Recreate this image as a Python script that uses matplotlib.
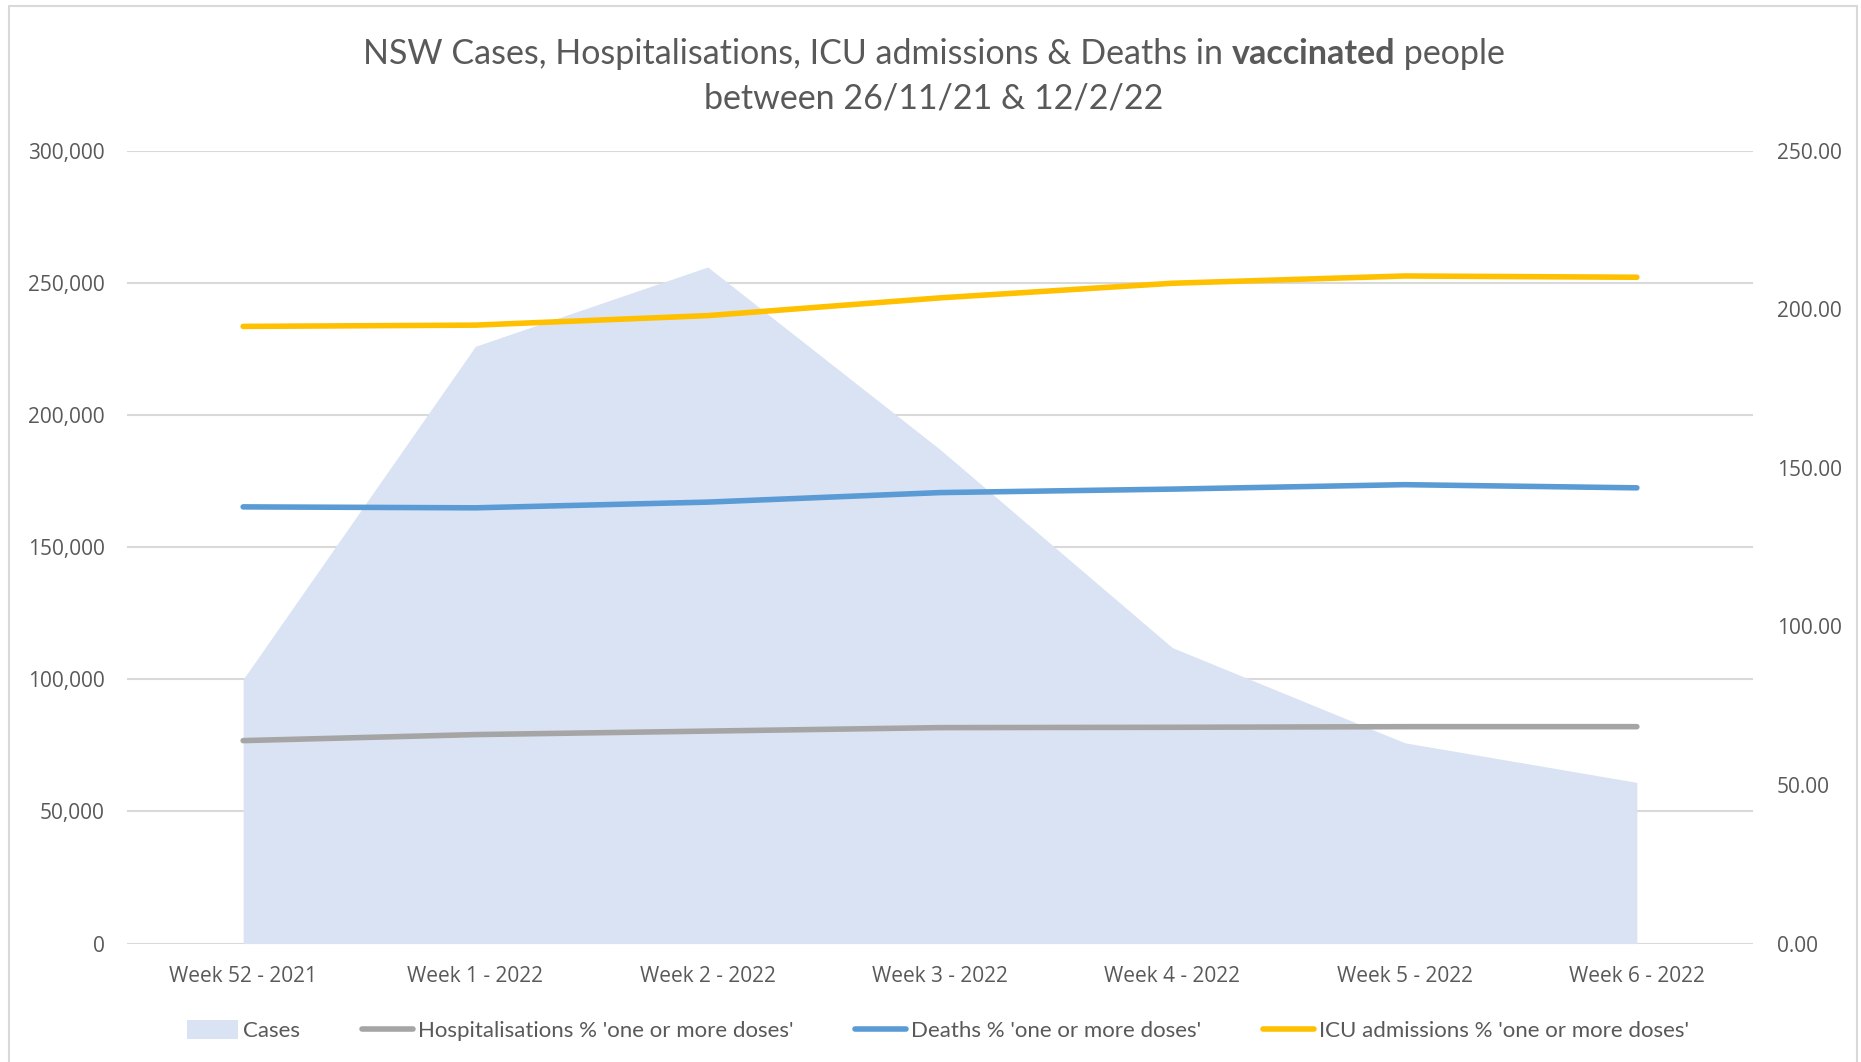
import matplotlib
matplotlib.use("Agg")
import matplotlib.pyplot as plt
from matplotlib.patches import Rectangle, Patch
from matplotlib.lines import Line2D
from matplotlib.ticker import FuncFormatter, MultipleLocator

# ---------------- data ----------------
weeks = ["Week 52 - 2021", "Week 1 - 2022", "Week 2 - 2022", "Week 3 - 2022",
         "Week 4 - 2022", "Week 5 - 2022", "Week 6 - 2022"]
cases = [100000, 226000, 256000, 187000, 112000, 76000, 61000]
hospitalisations = [64.0, 65.9, 67.0, 68.1, 68.2, 68.4, 68.4]
deaths = [137.7, 137.4, 139.2, 142.2, 143.3, 144.7, 143.7]
icu = [194.6, 195.0, 198.0, 203.6, 208.2, 210.5, 210.1]

legend_labels = ["Cases", "Hospitalisations % 'one or more doses'",
                 "Deaths % 'one or more doses'", "ICU admissions % 'one or more doses'"]

# ---------------- style ----------------
C_AREA = "#DAE3F3"
C_HOSP = "#A5A5A5"
C_DEATH = "#5B9BD5"
C_ICU = "#FFC000"
C_TEXT = "#595959"
C_GRID = "#D9D9D9"
TICK_FONT = "Open Sans"
TITLE_FONT = "Lato"

W, H = 1861, 1062
fig = plt.figure(figsize=(W / 100, H / 100), dpi=100)
fig.patch.set_facecolor("white")

# chart border
fig.patches.append(Rectangle((9 / W, -0.02), (1857 - 9) / W, 1.02 - 6 / H,
                             transform=fig.transFigure, fill=False,
                             edgecolor=C_GRID, linewidth=1.5))

ax = fig.add_axes([127 / W, 1 - 943.6 / H, (1753 - 127) / W, (943.6 - 150.7) / H])
x = list(range(len(weeks)))

ax.fill_between(x, cases, 0, color=C_AREA, linewidth=0, zorder=2)
ax.set_xlim(-0.5, len(weeks) - 0.5)
ax.set_ylim(0, 300000)
ax.yaxis.set_major_locator(MultipleLocator(50000))
ax.yaxis.set_major_formatter(FuncFormatter(lambda v, p: f"{int(v):,}"))
ax.set_axisbelow(True)
ax.grid(axis="y", color=C_GRID, linewidth=1.5, zorder=0)
ax.set_xticks(x)
ax.set_xticklabels(weeks)
for s in ax.spines.values():
    s.set_visible(False)
ax.tick_params(axis="y", length=0, pad=16, labelsize=15, labelcolor=C_TEXT)
ax.tick_params(axis="x", length=0, pad=16, labelsize=15, labelcolor=C_TEXT)
for lab in ax.get_xticklabels() + ax.get_yticklabels():
    lab.set_fontfamily(TICK_FONT)

ax2 = ax.twinx()
ax2.set_ylim(0, 250)
ax2.yaxis.set_major_locator(MultipleLocator(50))
ax2.yaxis.set_major_formatter(FuncFormatter(lambda v, p: f"{v:.2f}"))
for s in ax2.spines.values():
    s.set_visible(False)
ax2.tick_params(axis="y", length=0, pad=17, labelsize=15, labelcolor=C_TEXT)
for lab in ax2.get_yticklabels():
    lab.set_fontfamily(TICK_FONT)

lw = 4
ax2.plot(x, hospitalisations, color=C_HOSP, lw=lw, solid_capstyle="round", solid_joinstyle="round")
ax2.plot(x, deaths, color=C_DEATH, lw=lw, solid_capstyle="round", solid_joinstyle="round")
ax2.plot(x, icu, color=C_ICU, lw=lw, solid_capstyle="round", solid_joinstyle="round")

# ---------------- title ----------------
renderer = fig.canvas.get_renderer()
TS = 24.5


def rich_line(ycenter, parts):
    texts = []
    for s, wgt in parts:
        t = fig.text(0, ycenter, s, fontsize=TS, fontweight=wgt, family=TITLE_FONT,
                     color=C_TEXT, ha="left", va="center")
        texts.append(t)
    widths = [t.get_window_extent(renderer).width for t in texts]
    total = sum(widths)
    xpos = 934 - total / 2
    for t, w in zip(texts, widths):
        t.set_x(xpos / W)
        xpos += w


rich_line(1 - 53.5 / H, [("NSW Cases, Hospitalisations, ICU admissions & Deaths in ", "normal"),
                         ("vaccinated", "bold"), (" people", "normal")])
rich_line(1 - 98.5 / H, [("between 26/11/21 & 12/2/22", "normal")])

# ---------------- legend ----------------
handles = [Patch(facecolor=C_AREA, edgecolor="none"),
           Line2D([], [], color=C_HOSP, lw=lw, solid_capstyle="round"),
           Line2D([], [], color=C_DEATH, lw=lw, solid_capstyle="round"),
           Line2D([], [], color=C_ICU, lw=lw, solid_capstyle="round")]
fig.legend(handles, legend_labels, loc="center", bbox_to_anchor=(938 / W, 1 - 1030.5 / H),
           ncol=4, frameon=False, prop={"family": TITLE_FONT, "size": 16},
           labelcolor=C_TEXT, handlelength=2.3, handleheight=0.9, handletextpad=0.2,
           columnspacing=2.8)

fig.savefig("out.png", dpi=100)
